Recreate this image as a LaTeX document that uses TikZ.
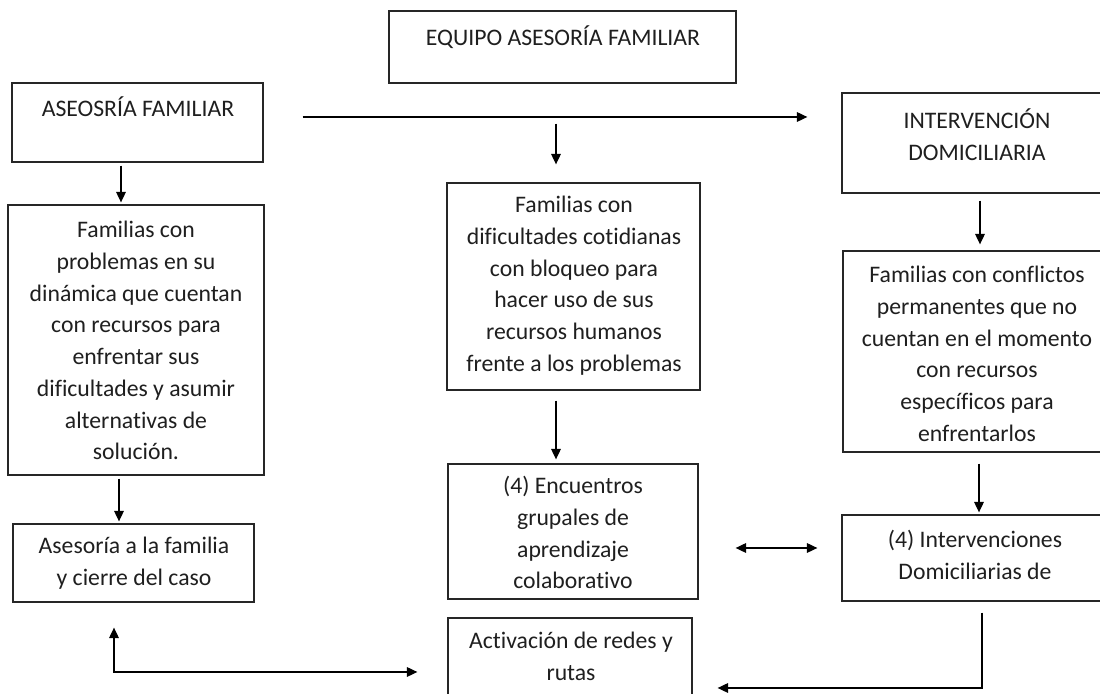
\documentclass[tikz,border=0pt]{standalone}
\usepackage{fontspec}
\setmainfont{Carlito}[Ligatures={NoCommon}]
\usetikzlibrary{arrows.meta}
\newcommand{\fstr}{\rule{0pt}{12pt}}
\begin{document}
\begin{tikzpicture}[x=0.5pt,y=-0.5pt,
  boxnode/.style 2 args={draw=black!85, line width=0.65pt, inner sep=0pt,
    minimum width=#1*0.5pt, minimum height=#2*0.5pt},
  txt/.style={inner sep=0pt, anchor=north, align=center, text=black!88,
    font=\fontsize{11.85pt}{15.85pt}\selectfont},
  arr/.style={draw=black, line width=0.65pt, -{Triangle[length=5.2pt,width=4.8pt]}},
  darr/.style={draw=black, line width=0.65pt, {Triangle[length=5.2pt,width=4.8pt]}-{Triangle[length=5.2pt,width=4.8pt]}}]
\useasboundingbox (0,0) rectangle (1100,694);
\clip (0,0) rectangle (1100,694);
\fill[white] (0,0) rectangle (1100,694);

% boxes
\node[boxnode={347}{72}]  (eq) at (562.5,47) {};
\node[boxnode={251}{79}]  (af) at (137.5,122.5) {};
\node[boxnode={270}{100}] (id) at (977,143) {};
\node[boxnode={256}{270}] (lf) at (136,340) {};
\node[boxnode={253}{207}] (mf) at (573.5,286.5) {};
\node[boxnode={269}{201}] (rf) at (977.5,351.5) {};
\node[boxnode={241}{78}]  (ac) at (133.5,563) {};
\node[boxnode={250}{135}] (en) at (573,531.5) {};
\node[boxnode={270}{86}]  (iv) at (977,558) {};
\node[boxnode={244}{102}] (ar) at (570,669) {};

% texts (north = first baseline - 24px)
\node[txt] (teq) at (563,21) {\fstr EQUIPO ASESORÍA FAMILIAR};
\node[txt] (taf) at (138,92) {\fstr ASEOSRÍA FAMILIAR};
\node[txt] (tid) at (977,104) {\fstr INTERVENCIÓN\\DOMICILIARIA};
\node[txt] (tlf) at (136,213.5) {\fstr Familias con\\problemas en su\\dinámica que cuentan\\con recursos para\\enfrentar sus\\dificultades y asumir\\alternativas de\\solución.};
\node[txt] (tmf) at (574,188.5) {\fstr Familias con\\dificultades cotidianas\\con bloqueo para\\hacer uso de sus\\recursos humanos\\frente a los problemas};
\node[txt] (trf) at (977,258.5) {\fstr Familias con conflictos\\permanentes que no\\cuentan en el momento\\con recursos\\específicos para\\enfrentarlos};
\node[txt] (tac) at (134,529.5) {\fstr Asesoría a la familia\\y cierre del caso};
\node[txt] (ten) at (573,469.5) {\fstr (4) Encuentros\\grupales de\\aprendizaje\\colaborativo};
\node[txt] (tiv) at (975,523.5) {\fstr (4) Intervenciones\\Domiciliarias de};
\node[txt] (tar) at (571,624.5) {\fstr Activación de redes y\\rutas};

% helper coordinates for connector positions
\coordinate (xA) at (121,0);
\coordinate (xM) at (556,0);
\coordinate (xI) at (980,0);
\coordinate (xB) at (119,0);
\coordinate (xR) at (979,0);
\coordinate (yH) at (0,117);
\coordinate (yD) at (0,548);
\coordinate (xL) at (114,0);
\coordinate (yL) at (0,672);
\coordinate (xE) at (982,0);
\coordinate (yE) at (0,688);

% connectors
\draw[arr, shorten <=1.5pt, shorten >=1pt] (af.south -| xA) -- (lf.north -| xA);
\draw[arr, shorten <=19.5pt, shorten >=17pt] (af.east |- yH) -- (id.west |- yH);
\draw[arr, shorten <=20pt, shorten >=9pt] (eq.south -| xM) -- (mf.north -| xM);
\draw[arr, shorten <=3.5pt, shorten >=3pt] (id.south -| xI) -- (rf.north -| xI);
\draw[arr, shorten <=1.5pt, shorten >=1pt] (lf.south -| xB) -- (ac.north -| xB);
\draw[arr, shorten <=5pt, shorten >=2pt] (mf.south -| xM) -- (en.north -| xM);
\draw[arr, shorten <=5.5pt, shorten >=1pt] (rf.south -| xR) -- (iv.north -| xR);
\draw[darr, shorten <=18.5pt, shorten >=12pt] (en.east |- yD) -- (iv.west |- yD);
\draw[darr, shorten <=12.5pt, shorten >=15pt] (ac.south -| xL) |- (ar.west |- yL);
\draw[arr, shorten <=5.5pt, shorten >=12.5pt] (iv.south -| xE) |- (ar.east |- yE);
\end{tikzpicture}
\end{document}
